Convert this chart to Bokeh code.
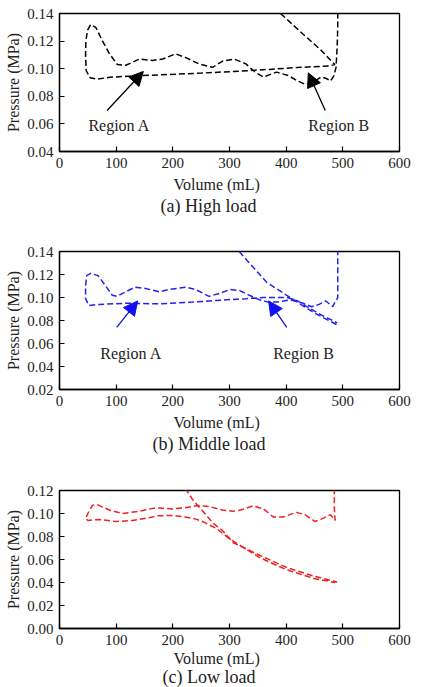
from bokeh.plotting import figure
from bokeh.layouts import column
from bokeh.models import Range1d, FixedTicker, PrintfTickFormatter, Title, Label, Arrow, NormalHead
from bokeh.embed import file_html
from bokeh.resources import INLINE

FONT = "Liberation Serif"

# ---------------- data ----------------
x_ticks = [0, 100, 200, 300, 400, 500, 600]
a_y_ticks = [0.04, 0.06, 0.08, 0.10, 0.12, 0.14]
b_y_ticks = [0.02, 0.04, 0.06, 0.08, 0.10, 0.12, 0.14]
c_y_ticks = [0.00, 0.02, 0.04, 0.06, 0.08, 0.10, 0.12]

# (a) High load - p-V loop
a_vol = [390, 430, 460, 486, 470, 425, 370, 307, 250, 190, 120, 89, 66, 54, 47,
         46, 46.5, 49.5, 55, 64, 76, 88, 102, 117, 141, 164, 182, 205, 223, 246,
         270, 288, 308, 329, 345, 360, 383, 404, 419, 434, 450, 462, 472, 478,
         484, 488, 490, 491, 491]
a_prs = [0.140, 0.125, 0.114, 0.103, 0.1018, 0.101, 0.0995, 0.098, 0.0968, 0.0958,
         0.0945, 0.0938, 0.0924, 0.0935, 0.0987,
         0.110, 0.120, 0.128, 0.132, 0.130, 0.120, 0.111, 0.103, 0.1025, 0.107,
         0.106, 0.107, 0.1108, 0.108, 0.1035, 0.101, 0.1055, 0.107, 0.1035,
         0.0975, 0.094, 0.0975, 0.095, 0.0914, 0.0886, 0.091, 0.094, 0.0927,
         0.091, 0.0946, 0.101, 0.1156, 0.130, 0.142]

# (b) Middle load - loop and expansion line
b_vol = [491, 491, 491, 482, 470, 458, 445, 430, 407, 383, 368, 353, 335, 318,
         301, 285, 264, 240, 223, 194, 176, 150, 133, 101, 93, 80, 68, 55, 48,
         46, 46, 52, 70, 117, 176, 235, 294, 330, 360, 402, 420, 440, 465, 490]
b_prs = [0.142, 0.120, 0.100, 0.092, 0.097, 0.094, 0.092, 0.095, 0.098, 0.096,
         0.096, 0.098, 0.102, 0.106, 0.107, 0.104, 0.101, 0.107, 0.109, 0.107,
         0.105, 0.108, 0.109, 0.101, 0.102, 0.111, 0.119, 0.121, 0.119, 0.110,
         0.099, 0.093, 0.094, 0.095, 0.0945, 0.096, 0.098, 0.099, 0.100, 0.100,
         0.097, 0.091, 0.084, 0.078]
b_exp_vol = [317, 366, 407, 448, 492]
b_exp_prs = [0.140, 0.113, 0.100, 0.087, 0.0757]

# (c) Low load - loop and expansion line
c_vol = [485, 485, 486, 487, 478, 466, 451, 433, 418, 395, 377, 360, 342, 320,
         306, 288, 265, 244, 222, 200, 170, 141, 111, 88, 65, 58, 50, 46, 50,
         70, 100, 129, 153, 176, 200, 224, 241, 253, 265, 277, 300, 354, 401,
         449, 487]
c_prs = [0.122, 0.105, 0.096, 0.094, 0.099, 0.096, 0.093, 0.099, 0.101, 0.097,
         0.097, 0.104, 0.1067, 0.103, 0.102, 0.103, 0.106, 0.107, 0.105, 0.104,
         0.105, 0.102, 0.100, 0.103, 0.108, 0.107, 0.100, 0.0957, 0.094, 0.0948,
         0.093, 0.094, 0.096, 0.098, 0.0983, 0.0968, 0.0951, 0.093, 0.0899,
         0.087, 0.078, 0.0615, 0.051, 0.0435, 0.040]
c_exp_vol = [222, 235, 259, 270, 288, 307, 354, 401, 449, 490]
c_exp_prs = [0.122, 0.112, 0.0986, 0.092, 0.085, 0.0745, 0.0635, 0.053, 0.0455, 0.0405]

# annotations (Region labels and arrows)
a_labels = ["Region A", "Region B"]
a_label_vol = [51, 439]
a_label_prs = [0.0589, 0.0589]
a_arrow_tail_vol = [84, 469]
a_arrow_tail_prs = [0.0697, 0.0697]
a_arrow_head_vol = [148, 439]
a_arrow_head_prs = [0.098, 0.097]

b_labels = ["Region A", "Region B"]
b_label_vol = [72, 377]
b_label_prs = [0.051, 0.051]
b_arrow_tail_vol = [101, 401]
b_arrow_tail_prs = [0.074, 0.074]
b_arrow_head_vol = [138, 369]
b_arrow_head_prs = [0.097, 0.097]

captions = ["(a) High load", "(b) Middle load", "(c) Low load"]
x_label = "Volume (mL)"
y_label = "Pressure (MPa)"


def make_panel(y_lo, y_hi, y_ticks, caption, cap_offset, top, bottom, xl_standoff):
    p = figure(frame_width=340, frame_height=138,
               min_border_left=59, min_border_right=14,
               min_border_top=top, min_border_bottom=bottom,
               x_range=Range1d(0, 600), y_range=Range1d(y_lo, y_hi),
               output_backend="svg", toolbar_location=None)
    p.grid.visible = False
    p.outline_line_color = "black"
    p.outline_line_width = 1.3
    p.outline_line_alpha = 1.0
    p.background_fill_color = "white"
    p.border_fill_color = "white"

    p.xaxis.ticker = FixedTicker(ticks=x_ticks)
    p.yaxis.ticker = FixedTicker(ticks=y_ticks)
    p.yaxis.formatter = PrintfTickFormatter(format="%.2f")
    for ax in (p.xaxis, p.yaxis):
        ax.major_tick_in = 5
        ax.major_tick_out = 0
        ax.minor_tick_in = 0
        ax.minor_tick_out = 0
        ax.axis_line_width = 1.3
        ax.major_tick_line_width = 1.2
        ax.major_label_text_font = FONT
        ax.major_label_text_font_size = "15px"
        ax.major_label_text_color = "#222222"
        ax.major_label_standoff = 6
    p.yaxis.axis_label = y_label
    p.yaxis.axis_label_text_font = FONT
    p.yaxis.axis_label_text_font_size = "16px"
    p.yaxis.axis_label_text_font_style = "normal"
    p.yaxis.axis_label_standoff = 2
    p.yaxis.axis_label_text_color = "#222222"

    t1 = Title(text=x_label, text_font=FONT, text_font_size="16px",
               text_font_style="normal", align="left", offset=114,
               standoff=xl_standoff, text_color="#222222")
    p.add_layout(t1, "below")
    t2 = Title(text=caption, text_font=FONT, text_font_size="18px",
               text_font_style="normal", align="left", offset=cap_offset,
               standoff=0, vertical_align="top", text_color="#222222")
    p.add_layout(t2, "below")
    return p


def add_regions(p, labels, lv, lp, tv, tp, hv, hp, color):
    for i in range(len(labels)):
        p.add_layout(Label(x=lv[i], y=lp[i], text=labels[i], text_font=FONT,
                           text_font_size="16px", text_baseline="middle",
                           text_align="left", text_color="#222222"))
        p.add_layout(Arrow(x_start=tv[i], y_start=tp[i], x_end=hv[i], y_end=hp[i],
                           line_color=color, line_width=1.3,
                           end=NormalHead(size=14, fill_color=color, line_color=color)))


dash = "6 3"

pa = make_panel(0.04, 0.14, a_y_ticks, captions[0], 101, 13, 85, 6)
pa.line(a_vol, a_prs, line_color="black", line_width=1.5, line_dash=dash)
add_regions(pa, a_labels, a_label_vol, a_label_prs, a_arrow_tail_vol, a_arrow_tail_prs,
            a_arrow_head_vol, a_arrow_head_prs, "black")

pb = make_panel(0.02, 0.14, b_y_ticks, captions[1], 93, 15, 85, 6)
pb.line(b_vol, b_prs, line_color="#2222f0", line_width=1.5, line_dash=dash)
pb.line(b_exp_vol, b_exp_prs, line_color="#2222f0", line_width=1.5, line_dash=dash)
add_regions(pb, b_labels, b_label_vol, b_label_prs, b_arrow_tail_vol, b_arrow_tail_prs,
            b_arrow_head_vol, b_arrow_head_prs, "#1010f0")

pc = make_panel(0.00, 0.12, c_y_ticks, captions[2], 103, 16, 60, 0)
pc.line(c_vol, c_prs, line_color="#ee2020", line_width=1.5, line_dash=dash)
pc.line(c_exp_vol, c_exp_prs, line_color="#ee2020", line_width=1.5, line_dash=dash)

layout = column(pa, pb, pc)
open("out.html", "w").write(file_html(layout, INLINE))
